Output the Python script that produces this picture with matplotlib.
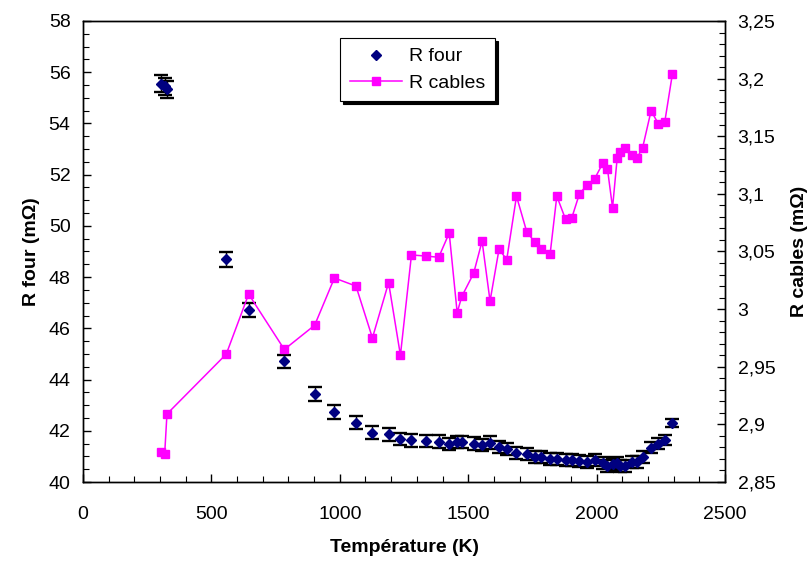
import matplotlib
matplotlib.use("Agg")
import matplotlib.pyplot as plt
from matplotlib.ticker import MultipleLocator, FixedLocator
from matplotlib.lines import Line2D

plt.rcParams['font.family'] = ['Liberation Sans', 'DejaVu Sans']

# Temperature (K)
temperature = [305, 318, 327, 558, 645, 784, 902, 979, 1063, 1127,
               1190, 1236, 1279, 1337, 1385, 1426, 1457, 1475, 1521, 1554,
               1585, 1620, 1650, 1688, 1728, 1760, 1782, 1819, 1845, 1879,
               1903, 1933, 1964, 1992, 2025, 2042, 2062, 2080, 2091, 2112,
               2138, 2157, 2179, 2212, 2240, 2265, 2295]

# R four (mOhm), left axis
r_four = [55.55, 55.45, 55.33, 48.69, 46.73, 44.71, 43.43, 42.73, 42.32, 41.93,
          41.87, 41.68, 41.63, 41.60, 41.57, 41.48, 41.57, 41.57, 41.50, 41.45,
          41.54, 41.37, 41.29, 41.12, 41.10, 40.99, 40.97, 40.91, 40.90, 40.87,
          40.87, 40.82, 40.79, 40.86, 40.73, 40.64, 40.69, 40.73, 40.64, 40.64,
          40.79, 40.79, 40.98, 41.34, 41.50, 41.63, 42.30]

# error on R four (mOhm)
r_four_err = [0.33, 0.33, 0.33, 0.30, 0.27, 0.26, 0.27, 0.26, 0.26, 0.25,
              0.25, 0.25, 0.25, 0.25, 0.25, 0.24, 0.24, 0.24, 0.24, 0.24,
              0.24, 0.23, 0.23, 0.23, 0.23, 0.23, 0.23, 0.23, 0.23, 0.23,
              0.23, 0.23, 0.23, 0.23, 0.23, 0.23, 0.23, 0.23, 0.23, 0.23,
              0.23, 0.23, 0.23, 0.22, 0.21, 0.20, 0.17]

# R cables (mOhm), right axis
r_cables = [2.876, 2.874, 2.909, 2.961, 3.013, 2.965, 2.986, 3.027, 3.020, 2.975,
            3.023, 2.960, 3.047, 3.046, 3.045, 3.066, 2.997, 3.011, 3.031, 3.059,
            3.007, 3.052, 3.043, 3.098, 3.067, 3.058, 3.052, 3.048, 3.098, 3.078,
            3.079, 3.100, 3.108, 3.113, 3.127, 3.122, 3.088, 3.131, 3.136, 3.140,
            3.134, 3.131, 3.140, 3.172, 3.161, 3.162, 3.204]

x_ticks = [0, 500, 1000, 1500, 2000, 2500]
left_ticks = [40, 42, 44, 46, 48, 50, 52, 54, 56, 58]
right_ticks = [2.85, 2.9, 2.95, 3.0, 3.05, 3.1, 3.15, 3.2, 3.25]
right_tick_labels = ['2,85', '2,9', '2,95', '3', '3,05', '3,1', '3,15', '3,2', '3,25']

FS = 14
NAVY = '#000080'
MAGENTA = '#FF00FF'

fig = plt.figure(figsize=(8.12, 5.61), dpi=100)
ax = fig.add_axes([0.1022, 0.1408, 0.7907, 0.8218])
ax2 = ax.twinx()

ax.errorbar(temperature, r_four, yerr=r_four_err, fmt='D', color=NAVY,
            markersize=4.8, ecolor='black', elinewidth=1.0, capsize=5,
            capthick=1.7, zorder=3)
ln, = ax2.plot(temperature, r_cables, '-s', color=MAGENTA, markersize=5.3,
               linewidth=1.1, label='R cables')

ax.set_xlim(0, 2500)
ax.set_ylim(40, 58)
ax2.set_ylim(2.85, 3.25)

ax.xaxis.set_major_locator(FixedLocator(x_ticks))
ax.set_xticklabels([str(v) for v in x_ticks])
ax.xaxis.set_minor_locator(MultipleLocator(100))
ax.yaxis.set_major_locator(FixedLocator(left_ticks))
ax.set_yticklabels([str(v) for v in left_ticks])
ax.yaxis.set_minor_locator(MultipleLocator(0.5))
ax2.yaxis.set_major_locator(FixedLocator(right_ticks))
ax2.set_yticklabels(right_tick_labels)
ax2.yaxis.set_minor_locator(MultipleLocator(0.01))

for a in (ax, ax2):
    a.tick_params(which='major', direction='in', length=6, width=1.0, labelsize=FS, pad=8)
    a.tick_params(which='minor', direction='in', length=4, width=0.8)
    for s in a.spines.values():
        s.set_linewidth(1.0)
ax.tick_params(axis='x', pad=17)
ax.tick_params(axis='y', pad=9)
ax2.tick_params(axis='y', pad=9)

ax.set_xlabel('Température (K)', fontsize=FS, fontweight='bold', labelpad=12)
ax.set_ylabel('R four (mΩ)', fontsize=FS, fontweight='bold', labelpad=6)
ax2.set_ylabel('R cables (mΩ)', fontsize=FS, fontweight='bold', labelpad=11)

four_handle = Line2D([], [], linestyle='none', marker='D', color=NAVY, markersize=4.8)
leg = ax2.legend([four_handle, ln], ['R four', 'R cables'], loc='upper left',
                 bbox_to_anchor=(0.40, 0.963), borderaxespad=0, fontsize=FS,
                 fancybox=False, edgecolor='black', framealpha=1,
                 shadow={'color': 'black', 'alpha': 1.0},
                 handlelength=2.7, handletextpad=0.35, labelspacing=0.45,
                 borderpad=0.5)
leg.get_frame().set_linewidth(0.8)

fig.savefig('out.png', dpi=100)
